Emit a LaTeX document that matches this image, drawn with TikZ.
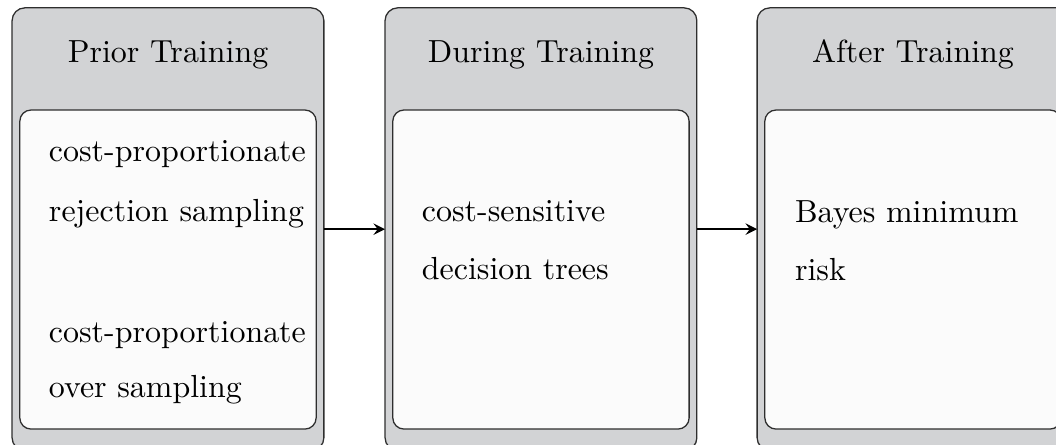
\documentclass[tikz,border=0pt]{standalone}
\usetikzlibrary{arrows}
\definecolor{stagegray}{HTML}{D2D3D5}
\definecolor{panelwhite}{HTML}{FBFBFB}
\definecolor{edgegray}{HTML}{2E2E2E}
\begin{document}
\begin{tikzpicture}[inner sep=0pt,outer sep=0pt,thin,>=stealth,
stage/.style={draw=edgegray,fill=stagegray,rectangle,rounded corners=4pt,minimum width=3.43cm,minimum height=4.87cm},
panel/.style={draw=edgegray,fill=panelwhite,rectangle,rounded corners=3.5pt,minimum width=3.26cm,minimum height=3.51cm},
items/.style={anchor=base west,align=left}]
\useasboundingbox (0,0) rectangle (11.617,4.895);
\draw (1.848,2.374) node[stage] (prior) {};
\draw (5.951,2.374) node[stage] (during) {};
\draw (10.044,2.374) node[stage] (after) {};
\draw (1.848,4.213) node[anchor=base] (priortitle) {Prior Training};
\draw (5.951,4.213) node[anchor=base] (duringtitle) {During Training};
\draw (10.044,4.213) node[anchor=base] (aftertitle) {After Training};
\draw (1.848,1.93) node[panel] (priorpanel) {};
\draw (5.951,1.93) node[panel] (duringpanel) {};
\draw (10.044,1.93) node[panel] (afterpanel) {};
% base anchor sits on the last line
\draw (0.539,0.517) node[items] (prioritems) {cost-proportionate\\[6.8pt] rejection sampling\\[25.6pt] cost-proportionate\\[5.5pt] over sampling};
\draw (4.642,1.815) node[items] (duringitems) {cost-sensitive\\[6.2pt] decision trees};
\draw (8.746,1.804) node[items] (afteritems) {Bayes minimum\\[6.2pt] risk};
\draw[->,semithick] (prior.east) -- (during.west);
\draw[->,semithick] (during.east) -- (after.west);
\end{tikzpicture}
\end{document}
